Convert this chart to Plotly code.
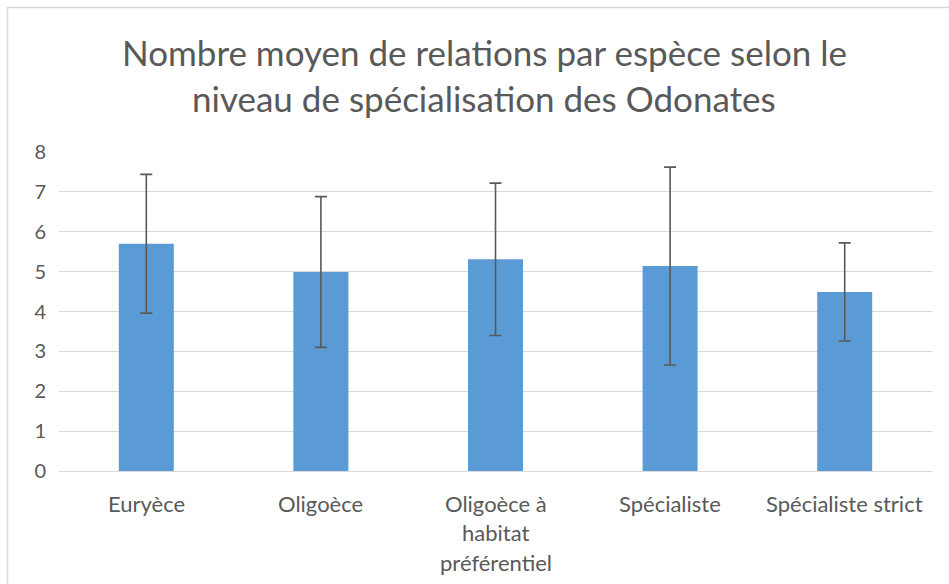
import plotly.graph_objects as go

# Data
categories = ["Euryèce", "Oligoèce", "Oligoèce à habitat préférentiel",
              "Spécialiste", "Spécialiste strict"]
label_lines = [["Euryèce"], ["Oligoèce"], ["Oligoèce à", "habitat", "préférentiel"],
               ["Spécialiste"], ["Spécialiste strict"]]
moyennes = [5.70, 4.99, 5.31, 5.14, 4.49]
ecarts = [1.74, 1.89, 1.91, 2.48, 1.23]
y_ticks = [0, 1, 2, 3, 4, 5, 6, 7, 8]
title_lines = ["Nombre moyen de relations par espèce selon le",
               "niveau de spécialisation des Odonates"]

grey = "#595959"
font = "Lato, Open Sans, sans-serif"

fig = go.Figure(go.Bar(
    x=categories, y=moyennes,
    marker=dict(color="#5B9BD5", line=dict(width=0)),
    width=0.315,
    error_y=dict(type="data", array=ecarts, color=grey, thickness=1.6, width=6),
))

# title lines (Excel spacing is wider than plotly's default)
for i, line in enumerate(title_lines):
    fig.add_annotation(text=line, xref="paper", yref="paper", x=0.487, y=1.0,
                       yshift=100 - 46 * i, showarrow=False,
                       font=dict(family=font, size=35, color=grey),
                       xanchor="center", yanchor="middle")

# category labels, one annotation per wrapped line
for cat, lines in zip(categories, label_lines):
    for j, line in enumerate(lines):
        fig.add_annotation(text=line, x=cat, xref="x", yref="paper", y=0,
                           yshift=-32 - 29.5 * j, showarrow=False,
                           font=dict(family=font, size=22, color=grey),
                           xanchor="center", yanchor="middle")

# outer chart border
fig.add_shape(type="rect", xref="paper", yref="paper",
              x0=-0.059, x1=1.2, y0=-0.6, y1=1.453,
              line=dict(color="#d9d9d9", width=1.5), fillcolor="rgba(0,0,0,0)")

fig.update_layout(
    width=949, height=584,
    margin=dict(l=59, r=17, t=152, b=113),
    paper_bgcolor="white", plot_bgcolor="white",
    showlegend=False,
    font=dict(family=font, color=grey, size=20),
    xaxis=dict(showticklabels=False, showgrid=False, showline=True,
               linecolor="#d9d9d9", linewidth=1.3, ticks=""),
    yaxis=dict(range=[0, 8], tickvals=y_ticks, showgrid=True,
               gridcolor="#d9d9d9", gridwidth=1.3, zeroline=False,
               ticks="", ticklabelstandoff=12,
               tickfont=dict(family=font, size=20, color=grey)),
    bargap=0.685,
)

fig.write_html("out.html", config={"displayModeBar": False},
               post_script="document.body.style.margin='0';")
